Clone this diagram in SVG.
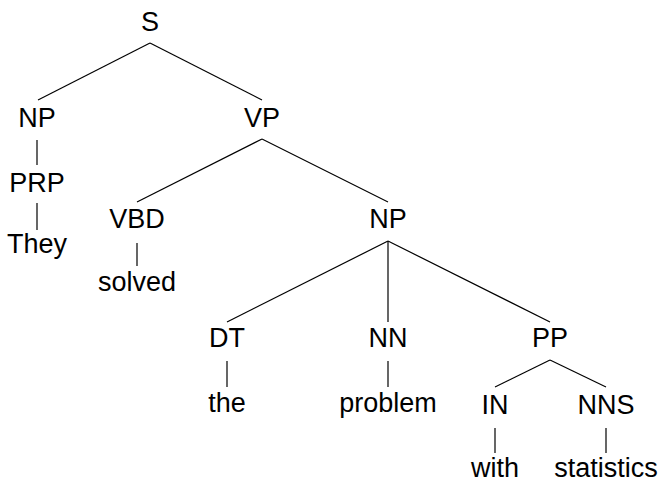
<svg xmlns="http://www.w3.org/2000/svg" width="662" height="482" viewBox="0 0 662 482">
  <style>
    text { font-family: "Liberation Sans", Arial, sans-serif; font-size: 27px; fill: #000; text-anchor: middle; }
    .edges line { stroke: #000; stroke-width: 1.2; stroke-linecap: butt; }
  </style>
  <rect width="662" height="482" fill="#fff"/>
  <g class="edges" id="connectors">
    <line x1="150" y1="43" x2="38" y2="100"/>
    <line x1="150" y1="43" x2="262" y2="100"/>
    <line x1="37" y1="140" x2="37" y2="165"/>
    <line x1="37" y1="203" x2="37" y2="230"/>
    <line x1="262" y1="139" x2="137" y2="202"/>
    <line x1="262" y1="139" x2="388" y2="202"/>
    <line x1="137" y1="243" x2="137" y2="266"/>
    <line x1="388" y1="241" x2="227" y2="322"/>
    <line x1="388" y1="241" x2="388" y2="322"/>
    <line x1="388" y1="241" x2="550" y2="322"/>
    <line x1="227" y1="361" x2="227" y2="387"/>
    <line x1="388" y1="361" x2="388" y2="387"/>
    <line x1="550" y1="360" x2="495" y2="387"/>
    <line x1="550" y1="360" x2="606" y2="387"/>
    <line x1="495" y1="428" x2="495" y2="453"/>
    <line x1="606" y1="428" x2="606" y2="453"/>
  </g>
  <g id="node-S"><text x="150" y="31">S</text></g>
  <g id="node-NP1"><text x="37" y="127">NP</text></g>
  <g id="node-VP"><text x="262" y="127">VP</text></g>
  <g id="node-PRP"><text x="37" y="192">PRP</text></g>
  <g id="node-They"><text x="37" y="253">They</text></g>
  <g id="node-VBD"><text x="137" y="228">VBD</text></g>
  <g id="node-solved"><text x="137" y="291">solved</text></g>
  <g id="node-NP2"><text x="388" y="228">NP</text></g>
  <g id="node-DT"><text x="227" y="347">DT</text></g>
  <g id="node-the"><text x="227" y="412">the</text></g>
  <g id="node-NN"><text x="388" y="347">NN</text></g>
  <g id="node-problem"><text x="388" y="412">problem</text></g>
  <g id="node-PP"><text x="550" y="347">PP</text></g>
  <g id="node-IN"><text x="495" y="414">IN</text></g>
  <g id="node-with"><text x="495" y="477">with</text></g>
  <g id="node-NNS"><text x="606" y="414">NNS</text></g>
  <g id="node-statistics"><text x="606" y="477">statistics</text></g>
</svg>
